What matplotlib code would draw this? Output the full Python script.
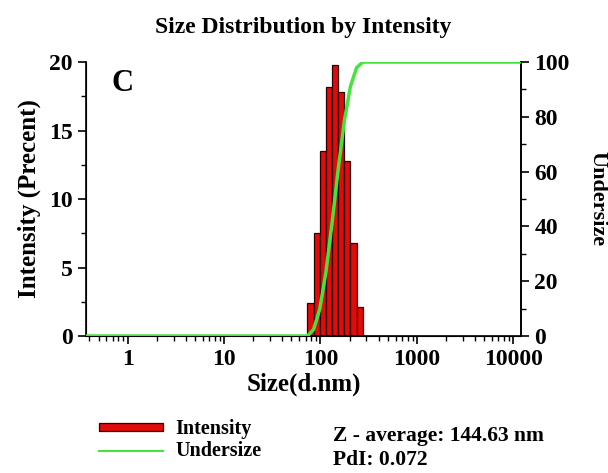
import numpy as np
import matplotlib
matplotlib.use('Agg')
import matplotlib.pyplot as plt
from matplotlib.lines import Line2D
from matplotlib.patches import Patch

# size classes (nm) and intensity (%)
size_nm = [78.82, 91.28, 105.7, 122.4, 141.8, 164.2, 190.1, 220.2, 255.0]
intensity = [2.4, 7.5, 13.5, 18.2, 19.8, 17.8, 12.8, 6.8, 2.1]
x_ticks = [1, 10, 100, 1000, 10000]
x_ticklabels = ['1', '10', '100', '1000', '10000']

plt.rcParams['font.family'] = ['Liberation Serif', 'DejaVu Serif']
plt.rcParams['font.weight'] = 'bold'

fig = plt.figure(figsize=(6.08, 4.73), dpi=100)
ax = fig.add_axes([0.1414, 0.2896, 0.7155, 0.5793])

step = 1.1583  # ratio between neighbouring size classes
c = np.array(size_nm)
lo = c / np.sqrt(step)
hi = c * np.sqrt(step)
bars = ax.bar(lo, intensity, width=hi - lo, align='edge', color='#e30a0a',
              edgecolor='#2a0000', linewidth=0.9, zorder=2)

ax.set_xscale('log')
ax.set_xlim(0.37, 12000)
ax.set_ylim(0, 20)
ax.set_xticks(x_ticks)
ax.set_xticklabels(x_ticklabels)
ax.set_yticks([0, 5, 10, 15, 20])
ax.set_yticks([2.5, 7.5, 12.5, 17.5], minor=True)
ax.tick_params(axis='both', which='major', labelsize=17, length=6, width=1.2)
ax.tick_params(axis='both', which='minor', length=3.5, width=1)
ax.spines['top'].set_visible(False)
for s in ['left', 'bottom', 'right']:
    ax.spines[s].set_linewidth(1.2)
ax.set_xlabel('Size(d.nm)', fontsize=18, fontweight='bold', labelpad=2)
ax.set_ylabel('Intensity (Precent)', fontsize=18, fontweight='bold', labelpad=6)
ax.set_title('Size Distribution by Intensity', fontsize=17, fontweight='bold', pad=21)
ax.text(0.083, 0.923, 'C', transform=ax.transAxes, fontsize=22, fontweight='bold',
        va='center', ha='center')

# cumulative undersize curve
cum = np.cumsum(intensity) / np.sum(intensity) * 100
ux = np.concatenate([[0.37, lo[0]], hi, [12000]])
uy = np.concatenate([[0, 0], cum, [100]])
ax2 = ax.twinx()
line, = ax2.plot(ux, uy, color='#46e33c', linewidth=2.5, zorder=3)
ax2.set_ylim(0, 100)
ax2.set_yticks([0, 20, 40, 60, 80, 100])
ax2.set_yticks([10, 30, 50, 70, 90], minor=True)
ax2.tick_params(axis='y', which='major', labelsize=17, length=6, width=1.2)
ax2.tick_params(axis='y', which='minor', length=3.5, width=1)
ax2.spines['top'].set_visible(False)
ax2.spines['right'].set_linewidth(1.2)
ax2.set_ylabel('Undersize', fontsize=16, fontweight='bold', rotation=-90, labelpad=27)

for lab in ax.get_xticklabels() + ax.get_yticklabels() + ax2.get_yticklabels():
    lab.set_fontweight('bold')

h_int = Patch(facecolor='#e30a0a', edgecolor='#2a0000', linewidth=0.9)
h_und = Line2D([], [], color='#46e33c', linewidth=1.5)
fig.legend([h_int, h_und], ['Intensity', 'Undersize'], loc='upper left',
           bbox_to_anchor=(0.133, 0.152), frameon=False,
           handlelength=3.2, handleheight=0.25, labelspacing=0.1,
           handletextpad=0.6, prop={'weight': 'bold', 'size': 14.5})

fig.text(0.548, 0.078, 'Z - average: 144.63 nm', fontsize=15.5, fontweight='bold', va='center')
fig.text(0.548, 0.027, 'PdI: 0.072', fontsize=15.5, fontweight='bold', va='center')

fig.savefig('out.png', dpi=100)
